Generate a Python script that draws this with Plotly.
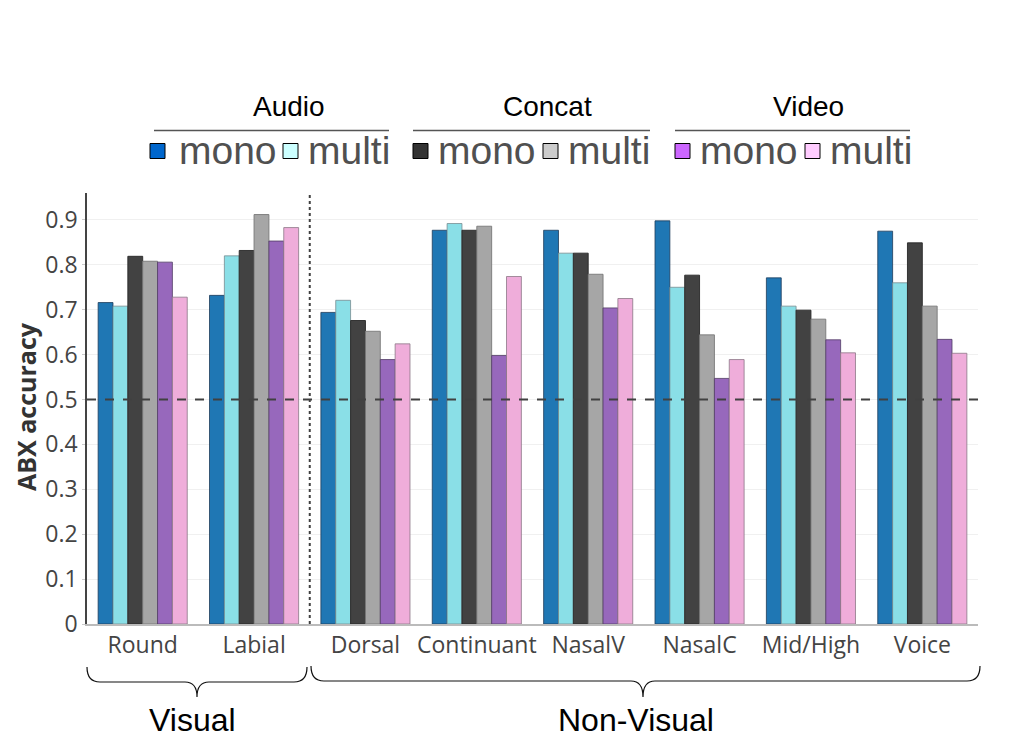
import plotly.graph_objects as go

categories = ["Round", "Labial", "Dorsal", "Continuant", "NasalV", "NasalC", "Mid/High", "Voice"]
audio_mono = [0.716, 0.732, 0.694, 0.877, 0.877, 0.898, 0.771, 0.875]
audio_multi = [0.708, 0.820, 0.721, 0.892, 0.826, 0.750, 0.708, 0.760]
concat_mono = [0.819, 0.832, 0.676, 0.877, 0.826, 0.777, 0.699, 0.849]
concat_multi = [0.808, 0.912, 0.652, 0.886, 0.779, 0.644, 0.679, 0.708]
video_mono = [0.806, 0.853, 0.589, 0.598, 0.704, 0.547, 0.633, 0.634]
video_multi = [0.728, 0.883, 0.624, 0.774, 0.725, 0.589, 0.604, 0.603]
y_ticks = [0, 0.1, 0.2, 0.3, 0.4, 0.5, 0.6, 0.7, 0.8, 0.9]
y_ticklabels = ["0", "0.1", "0.2", "0.3", "0.4", "0.5", "0.6", "0.7", "0.8", "0.9"]
chance_level = 0.5
groups = ["Audio", "Concat", "Video"]
group_labels = ["Visual", "Non-Visual"]

series = [
    ("Audio mono", audio_mono, "#1f77b4", "rgba(30,60,90,0.8)"),
    ("Audio multi", audio_multi, "#8ADFE7", "rgba(120,140,145,0.8)"),
    ("Concat mono", concat_mono, "#424242", "rgba(40,40,40,0.9)"),
    ("Concat multi", concat_multi, "#A6A6A6", "rgba(120,120,120,0.9)"),
    ("Video mono", video_mono, "#9768BC", "rgba(80,60,100,0.8)"),
    ("Video multi", video_multi, "#EFADDA", "rgba(140,120,135,0.8)"),
]

W, H = 1022, 751
L, R, T, B = 87, 978, 193, 624


def px(x):
    return (x - L) / (R - L)


def py(y):
    return (B - y) / (B - T)


fig = go.Figure()
for name, vals, col, edge in series:
    fig.add_trace(go.Bar(
        x=categories, y=vals, name=name, showlegend=False,
        marker=dict(color=col, line=dict(color=edge, width=1)),
    ))

shapes = []
annotations = []

# chance line
shapes.append(dict(type="line", xref="paper", yref="y", x0=0, x1=1, y0=chance_level, y1=chance_level,
                   line=dict(color="#404040", width=2, dash="dash")))
# visual / non-visual separator
shapes.append(dict(type="line", xref="x", yref="paper", x0=1.5, x1=1.5, y0=0, y1=1,
                   line=dict(color="#404040", width=2, dash="dot")))


# braces
def brace(x0, x1, xm, ytop, ymid, ytip):
    r = 13
    pts = [
        f"M {px(x0)},{py(ytop)}",
        f"Q {px(x0)},{py(ymid)} {px(x0 + r)},{py(ymid)}",
        f"L {px(xm - 12)},{py(ymid)}",
        f"Q {px(xm)},{py(ymid)} {px(xm)},{py(ytip)}",
        f"Q {px(xm)},{py(ymid)} {px(xm + 12)},{py(ymid)}",
        f"L {px(x1 - r)},{py(ymid)}",
        f"Q {px(x1)},{py(ymid)} {px(x1)},{py(ytop)}",
    ]
    return dict(type="path", xref="paper", yref="paper", path=" ".join(pts),
                line=dict(color="#111111", width=1.2))


shapes.append(brace(87, 307, 197, 667, 682, 697))
shapes.append(brace(311, 980, 643, 666, 681, 697))
annotations.append(dict(x=px(192), y=py(720), xref="paper", yref="paper", text=group_labels[0],
                        showarrow=False, font=dict(family="Liberation Sans, Arial", size=32, color="#000"),
                        xanchor="center", yanchor="middle"))
annotations.append(dict(x=px(636), y=py(720), xref="paper", yref="paper", text=group_labels[1],
                        showarrow=False, font=dict(family="Liberation Sans, Arial", size=32, color="#000"),
                        xanchor="center", yanchor="middle"))

# custom legend
legend_cols = ["#0066CC", "#CCFFFF", "#333333", "#CCCCCC", "#CC66FF", "#FFCCFF"]
group_centers = [289, 547, 808]
line_spans = [(154, 389), (413, 650), (675, 910)]
sq_x = [(150, 283), (413, 543), (675, 805)]
txt_x = [(177, 306), (436, 566), (698, 828)]
for gi, g in enumerate(groups):
    annotations.append(dict(x=px(group_centers[gi]), y=py(106), xref="paper", yref="paper", text=g,
                            showarrow=False, font=dict(family="Liberation Sans, Arial", size=28, color="#000"),
                            xanchor="center", yanchor="middle"))
    a, b = line_spans[gi]
    shapes.append(dict(type="line", xref="paper", yref="paper", x0=px(a), x1=px(b), y0=py(130.5), y1=py(130.5),
                       line=dict(color="#555555", width=1.5)))
    for k, lab in enumerate(["mono", "multi"]):
        sx = sq_x[gi][k]
        shapes.append(dict(type="rect", xref="paper", yref="paper", x0=px(sx), x1=px(sx + 15),
                           y0=py(158.5), y1=py(143.5), fillcolor=legend_cols[gi * 2 + k],
                           line=dict(color="#000", width=1)))
        annotations.append(dict(x=px(txt_x[gi][k]), y=py(150), xref="paper", yref="paper", text=lab,
                                showarrow=False, font=dict(family="Liberation Sans, Arial", size=39, color="#505050"),
                                xanchor="left", yanchor="middle"))

# y title
annotations.append(dict(x=px(26), y=py(407), xref="paper", yref="paper", text="<b>ABX accuracy</b>",
                        textangle=-90, showarrow=False,
                        font=dict(family="Open Sans", size=25, color="#333"),
                        xanchor="center", yanchor="middle"))

fig.update_layout(
    width=W, height=H,
    margin=dict(l=L, r=W - R, t=T, b=H - B),
    paper_bgcolor="white", plot_bgcolor="white",
    barmode="group", bargap=0.2, bargroupgap=0,
    shapes=shapes, annotations=annotations,
    font=dict(family="Open Sans", color="#444"),
    xaxis=dict(type="category", range=[-0.5, 7.5], showline=True, linecolor="#bbbbbb", linewidth=1.5,
               ticks="", tickfont=dict(family="Open Sans", size=23, color="#444"),
               showgrid=False, zeroline=False),
    yaxis=dict(range=[0, 0.96], tickvals=y_ticks, ticktext=y_ticklabels, showline=True,
               linecolor="#444444", linewidth=1.5, ticks="outside", ticklen=3, tickcolor="#cccccc",
               tickfont=dict(family="Open Sans", size=23, color="#444"),
               showgrid=True, gridcolor="#f0f0f0", gridwidth=1, zeroline=False),
)

fig.write_html("out.html")
